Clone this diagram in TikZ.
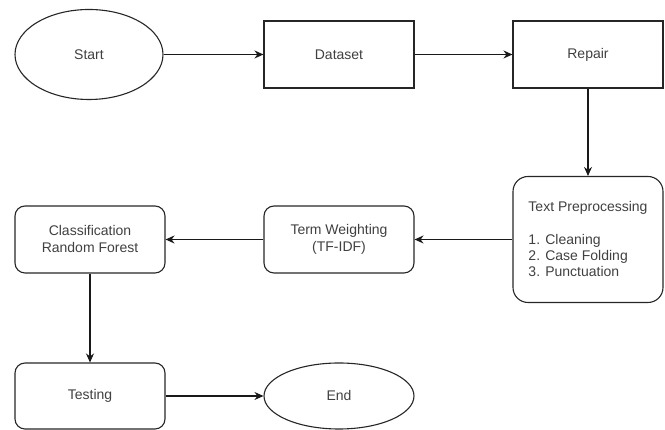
\documentclass[tikz,border=0pt]{standalone}
\usepackage{fontspec}
\setmainfont{Liberation Sans}
\usetikzlibrary{shapes.geometric,arrows.meta}
\newcommand{\flowtxt}[1]{\textcolor{black!75}{#1}}

\begin{document}
\begin{tikzpicture}[x=1pt,y=1pt,
	every node/.style={font=\fontsize{14}{17}\selectfont},
	box/.style={draw=black!85,line width=1.1pt,minimum width=150pt,minimum height=67pt,inner sep=0pt},
	roundbox/.style={box,rounded corners=10pt},
	oval/.style={draw=black!85,line width=1.1pt,ellipse,inner sep=0pt},
	flow/.style={-{Stealth[length=9pt,width=8pt]},line width=1.1pt,draw=black!90}]
		\useasboundingbox (0,0) rectangle (665,430);
		%\draw[help lines,step=50] (0,0) grid (665,430);
		% top row
		\node[oval,minimum width=148pt,minimum height=90pt] (S) at (89,375.5) {\flowtxt{Start}};
		\node[box] (D) at (339,375.5) {\flowtxt{Dataset}};
		\node[box] (R) at (588,375.5) {\flowtxt{Repair}};
		% middle row
		\node[roundbox,rounded corners=15pt,minimum height=126pt,align=left] (P) at (588,190.5)
			{\flowtxt{Text Preprocessing}\\[16pt]\flowtxt{1. Cleaning}\\[-1pt]\flowtxt{2. Case Folding}\\[-1pt]\flowtxt{3. Punctuation}};
		\node[roundbox,align=center] (W) at (339,190.5) {\flowtxt{Term Weighting}\\\flowtxt{(TF-IDF)}};
		\node[roundbox,align=center] (C) at (90,190.5) {\flowtxt{Classification}\\\flowtxt{Random Forest}};
		% bottom row
		\node[roundbox,minimum height=66pt] (T) at (90,34) {\flowtxt{Testing}};
		\node[oval,minimum width=150pt,minimum height=66pt] (E) at (339,34) {\flowtxt{End}};
		% arrows
		\draw[flow] (S) -- (D);
		\draw[flow] (D) -- (R);
		\draw[flow] (R) -- (P);
		\draw[flow] (P) -- (W);
		\draw[flow] (W) -- (C);
		\draw[flow] (C) -- (T);
		\draw[flow] (T) -- (E);
	\end{tikzpicture}
\end{document}
